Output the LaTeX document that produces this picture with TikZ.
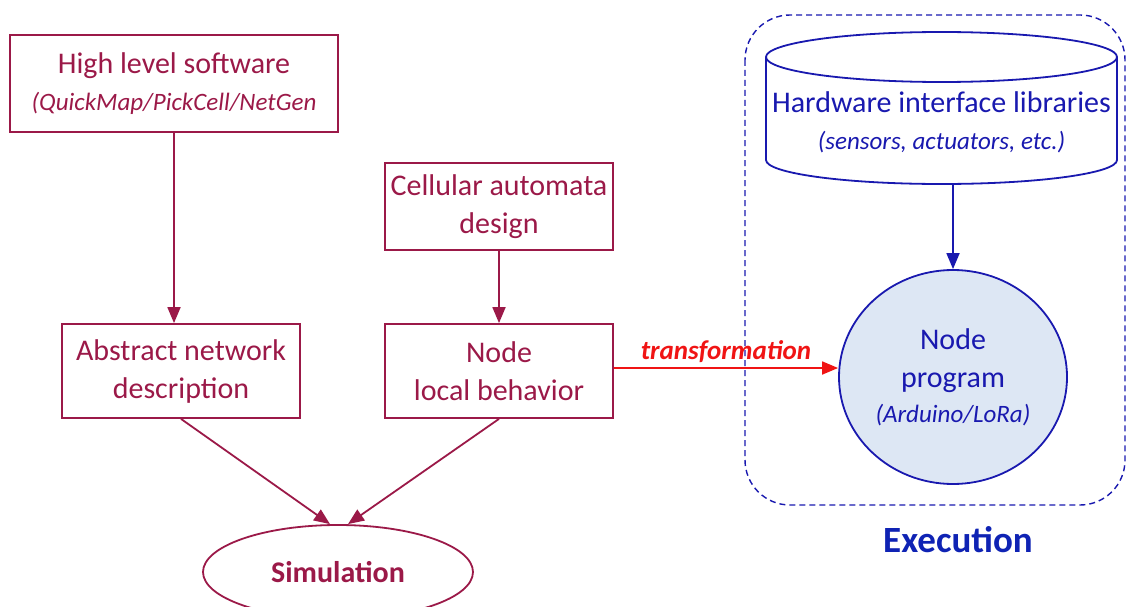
\documentclass[tikz,border=0pt]{standalone}
\usepackage{fontspec}
\setmainfont{Carlito}
\usetikzlibrary{arrows.meta,shapes.geometric}
\definecolor{maroon}{RGB}{155,25,72}
\definecolor{hwblue}{RGB}{25,25,175}
\definecolor{exblue}{RGB}{15,35,180}
\definecolor{trred}{RGB}{240,20,20}
\definecolor{cfill}{RGB}{221,231,244}
\tikzset{
  mbox/.style={draw=maroon, line width=1.8pt, text=maroon, align=center,
    font=\fontsize{30}{38}\selectfont, inner sep=0pt},
  marr/.style={draw=maroon, line width=1.8pt, -{Triangle[length=16pt,width=13pt]}},
  barr/.style={draw=hwblue, line width=1.8pt, -{Triangle[length=16pt,width=13pt]}},
  rarr/.style={draw=trred, line width=1.8pt, -{Triangle[length=16pt,width=13pt]}},
}
\begin{document}
\begin{tikzpicture}[x=1pt,y=-1pt]
\useasboundingbox (0,0) rectangle (1126,607);
% dashed execution frame
\draw[hwblue, line width=1.4pt, dash pattern=on 6pt off 4pt, rounded corners=45pt]
  (745,15) rectangle (1125,505);
% maroon boxes
\node[mbox, minimum width=328pt, minimum height=97pt] (hls) at (174,83.5)
  {High level software\\[-1pt]{\fontsize{25}{30}\itshape\selectfont (QuickMap/PickCell/NetGen}};
\node[mbox, minimum width=238pt, minimum height=94pt] (abs) at (181,371)
  {Abstract network\\description};
\node[mbox, minimum width=228pt, minimum height=87pt] (ca) at (499,206.5)
  {Cellular automata\\design};
\node[mbox, minimum width=228pt, minimum height=94pt] (nlb) at (499,371)
  {Node\\local behavior};
\node[draw=maroon, line width=1.8pt, ellipse, minimum width=270pt, minimum height=94pt,
  text=maroon, font=\fontsize{30}{36}\bfseries\selectfont, inner sep=0pt] (sim) at (338,572) {Simulation};
% cylinder
\draw[hwblue, line width=1.8pt]
  (766,57) -- (766,160) arc[start angle=180, end angle=360, x radius=175.5pt, y radius=24pt]
  -- (1117,57);
\draw[hwblue, line width=1.8pt] (941.5,57) ellipse[x radius=175.5pt, y radius=25pt];
\node[minimum width=352pt, minimum height=152pt, inner sep=0pt] (hw) at (941.5,108) {};
\node[text=hwblue, align=center, font=\fontsize{30}{38}\selectfont, inner sep=0pt] (hwt) at (941.5,122)
  {Hardware interface libraries\\[-1pt]{\fontsize{25}{30}\itshape\selectfont (sensors, actuators, etc.)}};
% node program circle
\node[draw=hwblue, line width=1.8pt, fill=cfill, ellipse, minimum width=228pt, minimum height=214pt,
  text=hwblue, align=center, font=\fontsize{30}{38}\selectfont, inner sep=0pt] (prog) at (953,377)
  {Node\\program\\[-3pt]{\fontsize{25}{30}\itshape\selectfont (Arduino/LoRa)}};
\node[text=exblue, font=\fontsize{37}{44}\bfseries\selectfont] (exec) at (958,540) {Execution};
% connectors
\draw[marr] (hls.south) -- (hls.south |- abs.north);
\draw[marr] (ca.south) -- (nlb.north);
\draw[marr] (abs.south) -- ([xshift=-8pt]sim.north);
\draw[marr] (nlb.south) -- ([xshift=10pt]sim.north);
\draw[barr] (hw.south -| prog.north) -- (prog.north);
\draw[rarr] ([yshift=3pt]nlb.east) -- node[above=1pt, text=trred, font=\fontsize{27}{32}\bfseries\itshape\selectfont] {transformation} ([yshift=3pt]nlb.east -| prog.west);
\end{tikzpicture}
\end{document}
